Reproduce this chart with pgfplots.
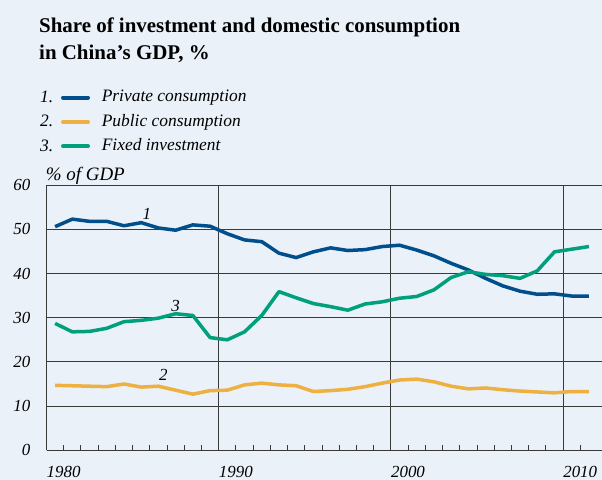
\documentclass[border=0pt]{standalone}
\usepackage{fontspec}
\setmainfont{Liberation Serif}
\usepackage{pgfplots}
\pgfplotsset{compat=1.18}
\definecolor{bg}{HTML}{EAF1F8}
\definecolor{cblue}{HTML}{004E8C}
\definecolor{corange}{HTML}{EEB041}
\definecolor{cgreen}{HTML}{00A07C}
\definecolor{cgrid}{HTML}{3A3A3A}
\newcommand{\legimg}[2]{%
  \node[anchor=base east, inner sep=0pt, text=black] at (-8bp,-5bp) {#1};
  \draw[line width=4bp, line cap=round, #2] (0bp,0bp) -- (25bp,0bp);
  \path (37bp,0bp);}
\begin{document}
\begin{tikzpicture}
\fill[bg] (0,0) rectangle (602bp,480bp);
\node[anchor=base west, inner sep=0pt, font=\bfseries\fontsize{21}{25}\selectfont] at (39bp,447.7bp) {Share of investment and domestic consumption};
\node[anchor=base west, inner sep=0pt, font=\bfseries\fontsize{21}{25}\selectfont] at (39bp,420bp) {in China’s GDP, \%};
\node[anchor=base west, inner sep=0pt, font=\itshape\fontsize{19}{19}\selectfont] at (45.7bp,299.5bp) {\% of GDP};
\begin{axis}[
  at={(46.5bp,29.7bp)}, anchor=south west, scale only axis,
  width=555.5bp, height=265.2bp,
  xmin=1980, xmax=2012.26, ymin=0, ymax=60,
  axis x line*=bottom, axis y line*=left,
  axis line style={cgrid, line width=1bp},
  xtick={1980,1990,2000,2010}, minor xtick={1981,...,2011},
  ytick={0,10,...,60},
  xmajorgrids, ymajorgrids,
  grid style={cgrid, line width=0.9bp},
  major tick length=0pt, minor tick length=5.5bp, tick align=inside,
  minor tick style={cgrid, line width=0.9bp},
  xticklabel style={anchor=base west, inner sep=0pt, yshift=-27bp},
  yticklabel style={anchor=east, inner sep=0pt, xshift=-16bp},
  ticklabel style={font=\itshape\fontsize{17}{17}\selectfont},
  /pgf/number format/assume math mode=true, /pgf/number format/1000 sep={},
  legend style={at={(-0.0117,1.362)}, anchor=north west, draw=none, fill=none, inner sep=0pt,
    font=\itshape\fontsize{17.5}{21}\selectfont, row sep=7.1bp,
    nodes={inner sep=0pt, text height=12.5bp, text depth=4bp}},
  legend cell align=left,
  every axis plot/.append style={line width=3.5bp, line join=round},
]
\addplot[cblue, legend image code/.code={\legimg{1.}{cblue}}] coordinates {
(1980.5,50.6)(1981.5,52.3)(1982.5,51.8)(1983.5,51.8)(1984.5,50.8)(1985.5,51.5)
(1986.5,50.3)(1987.5,49.8)(1988.5,51.0)(1989.5,50.7)(1990.5,49.0)(1991.5,47.6)
(1992.5,47.2)(1993.5,44.6)(1994.5,43.6)(1995.5,44.9)(1996.5,45.8)(1997.5,45.2)
(1998.5,45.4)(1999.5,46.1)(2000.5,46.4)(2001.5,45.3)(2002.5,44.0)(2003.5,42.3)
(2004.5,40.8)(2005.5,38.9)(2006.5,37.2)(2007.5,36.0)(2008.5,35.3)(2009.5,35.4)
(2010.5,34.9)(2011.5,34.9)};
\addlegendentry{Private consumption}
\addplot[corange, legend image code/.code={\legimg{2.}{corange}}] coordinates {
(1980.5,14.7)(1981.5,14.6)(1982.5,14.5)(1983.5,14.4)(1984.5,15.0)(1985.5,14.3)
(1986.5,14.5)(1987.5,13.6)(1988.5,12.7)(1989.5,13.5)(1990.5,13.6)(1991.5,14.8)
(1992.5,15.2)(1993.5,14.8)(1994.5,14.6)(1995.5,13.3)(1996.5,13.5)(1997.5,13.8)
(1998.5,14.4)(1999.5,15.2)(2000.5,15.9)(2001.5,16.1)(2002.5,15.5)(2003.5,14.5)
(2004.5,13.9)(2005.5,14.1)(2006.5,13.7)(2007.5,13.4)(2008.5,13.2)(2009.5,13.0)
(2010.5,13.3)(2011.5,13.3)};
\addlegendentry{Public consumption}
\addplot[cgreen, legend image code/.code={\legimg{3.}{cgreen}}] coordinates {
(1980.5,28.7)(1981.5,26.8)(1982.5,26.9)(1983.5,27.6)(1984.5,29.1)(1985.5,29.4)
(1986.5,29.9)(1987.5,30.9)(1988.5,30.5)(1989.5,25.5)(1990.5,25.0)(1991.5,26.8)
(1992.5,30.5)(1993.5,35.9)(1994.5,34.5)(1995.5,33.2)(1996.5,32.5)(1997.5,31.7)
(1998.5,33.1)(1999.5,33.6)(2000.5,34.4)(2001.5,34.8)(2002.5,36.3)(2003.5,39.1)
(2004.5,40.4)(2005.5,39.8)(2006.5,39.5)(2007.5,38.9)(2008.5,40.6)(2009.5,44.9)
(2010.5,45.5)(2011.5,46.1)};
\addlegendentry{Fixed investment}
\node[anchor=base, font=\itshape\fontsize{17}{17}\selectfont, inner sep=0pt] at (axis cs:1985.83,52.3) {1};
\node[anchor=base, font=\itshape\fontsize{17}{17}\selectfont, inner sep=0pt] at (axis cs:1987.5,31.4) {3};
\node[anchor=base, font=\itshape\fontsize{17}{17}\selectfont, inner sep=0pt] at (axis cs:1986.78,15.8) {2};
\end{axis}
\pgfresetboundingbox
\useasboundingbox (0,0) rectangle (602bp,480bp);
\end{tikzpicture}
\end{document}
